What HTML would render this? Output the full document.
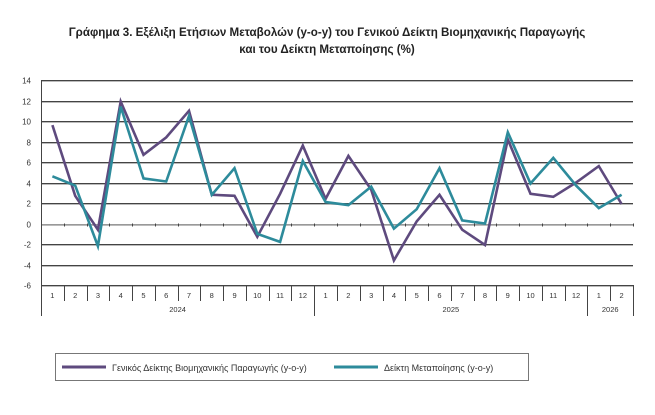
<!DOCTYPE html>
<html><head><meta charset="utf-8"><style>
body{margin:0;background:#fff;width:655px;height:410px;overflow:hidden;font-family:"Liberation Sans",sans-serif}
</style></head><body>
<svg id="s" width="655" height="410" xmlns="http://www.w3.org/2000/svg" font-family="Liberation Sans, sans-serif">
<text x="327" y="36" text-anchor="middle" font-size="11.6" font-weight="bold" fill="#222">Γράφημα 3. Εξέλιξη Ετήσιων Μεταβολών (y-o-y) του Γενικού Δείκτη Βιομηχανικής Παραγωγής</text>
<text x="327" y="53" text-anchor="middle" font-size="11.6" font-weight="bold" fill="#222">και του Δείκτη Μεταποίησης (%)</text>
<rect x="55.5" y="353.5" width="473" height="27" fill="none" stroke="#777"/>
<line x1="62" y1="367" x2="106" y2="367" stroke="#5e4a7e" stroke-width="3"/>
<text x="112" y="371" font-size="9" fill="#333">Γενικός Δείκτης Βιομηχανικής Παραγωγής (y-o-y)</text>
<line x1="334" y1="367" x2="378" y2="367" stroke="#2d8b9b" stroke-width="3"/>
<text x="384" y="371" font-size="9" fill="#333">Δείκτη Μεταποίησης (y-o-y)</text>
</svg>
<script>
var s=document.getElementById('s'),ns='http://www.w3.org/2000/svg';
function el(t,a,txt){var e=document.createElementNS(ns,t);for(var k in a)e.setAttribute(k,a[k]);if(txt!=null)e.textContent=txt;s.appendChild(e);return e;}
var L=41,R=633,T=80,pu=10.25,y0=T+14*pu,n=26,cw=(R-L)/n;
function Y(v){return y0-v*pu;}
for(var v=-6;v<=14;v+=2){var y=Math.round(Y(v))+0.5;
 el('line',{x1:L,y1:y+1,x2:R,y2:y+1,stroke:'#bbb','stroke-width':1});
 el('line',{x1:L,y1:y,x2:R,y2:y,stroke:v==0?'#999':'#444','stroke-width':1});
 el('text',{x:L-10,y:y+3,'text-anchor':'end','font-size':8,fill:'#333'},v);}
el('line',{x1:L+0.5,y1:T,x2:L+0.5,y2:316,stroke:'#444'});
el('line',{x1:R+0.5,y1:285,x2:R+0.5,y2:316,stroke:'#444'});
for(var i=0;i<=n;i++){var x=Math.round(L+cw*i)+0.5;
 el('line',{x1:x,y1:y0,x2:x,y2:y0+3,stroke:'#444'});
 el('line',{x1:x,y1:285,x2:x,y2:301,stroke:'#444'});
 if(i<n){var m=i<12?i+1:(i<24?i-11:i-23);el('text',{x:L+cw*(i+0.5),y:298,'text-anchor':'middle','font-size':7.5,fill:'#333'},m);}}
[12,24].forEach(function(i){var x=Math.round(L+cw*i)+0.5;el('line',{x1:x,y1:285,x2:x,y2:316,stroke:'#444'});});
el('text',{x:L+cw*6,y:312,'text-anchor':'middle','font-size':7.5,fill:'#333'},'2024');
el('text',{x:L+cw*18,y:312,'text-anchor':'middle','font-size':7.5,fill:'#333'},'2025');
el('text',{x:L+cw*25,y:312,'text-anchor':'middle','font-size':7.5,fill:'#333'},'2026');
var a=[9.6,2.7,-0.6,11.9,6.7,8.4,11.0,2.8,2.7,-1.3,2.9,7.6,2.4,6.6,3.3,-3.6,0.2,2.8,-0.6,-2.1,8.2,2.9,2.6,4.0,5.6,1.9];
var b=[4.6,3.7,-2.2,11.4,4.4,4.1,10.5,2.8,5.4,-1.0,-1.8,6.1,2.1,1.8,3.6,-0.5,1.4,5.4,0.3,0.0,8.9,3.9,6.4,3.7,1.5,2.8];
function pts(d){return d.map(function(v,i){return (L+cw*(i+0.5)).toFixed(1)+','+Y(v).toFixed(1);}).join(' ');}
el('polyline',{points:pts(a),fill:'none',stroke:'#5e4a7e','stroke-width':2.6,'stroke-linejoin':'miter'});
el('polyline',{points:pts(b),fill:'none',stroke:'#2d8b9b','stroke-width':2.6,'stroke-linejoin':'miter'});
</script>
</body></html>
